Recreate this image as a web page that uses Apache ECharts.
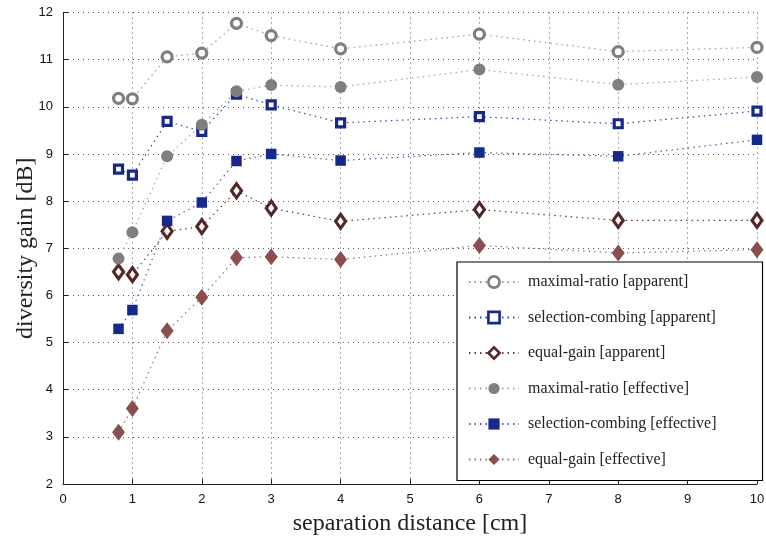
<!DOCTYPE html>
<html><head><meta charset="utf-8">
<script src="https://cdn.jsdelivr.net/npm/echarts@6/dist/echarts.min.js"></script>
<style>html,body{margin:0;padding:0;background:#fff}#c{width:766px;height:537px}</style>
</head><body><div id="c"></div>
<script>
const xValues = [0.8, 1, 1.5, 2, 2.5, 3, 4, 6, 8, 10];
const maxRatioApparent   = [10.18, 10.17, 11.06, 11.14, 11.77, 11.51, 11.23, 11.54, 11.17, 11.26];
const selectionApparent  = [8.68, 8.55, 9.69, 9.48, 10.27, 10.04, 9.66, 9.79, 9.64, 9.91];
const equalGainApparent  = [6.50, 6.44, 7.36, 7.46, 8.22, 7.85, 7.57, 7.82, 7.59, 7.59];
const maxRatioEffective  = [6.78, 7.34, 8.95, 9.62, 10.33, 10.46, 10.42, 10.79, 10.47, 10.63];
const selectionEffective = [5.29, 5.69, 7.58, 7.97, 8.85, 9.00, 8.86, 9.03, 8.95, 9.30];
const equalGainEffective = [3.10, 3.60, 5.25, 5.96, 6.80, 6.82, 6.76, 7.06, 6.90, 6.97];
const xTickLabels = ['0','1','2','3','4','5','6','7','8','9','10'];
const yTickLabels = ['2','3','4','5','6','7','8','9','10','11','12'];
const seriesNames = [
  'maximal-ratio [apparent]',
  'selection-combing [apparent]',
  'equal-gain [apparent]',
  'maximal-ratio [effective]',
  'selection-combing [effective]',
  'equal-gain [effective]'
];

const GREY = '#7f7f7f', BLUE = '#16298a', DBROWN = '#552727', RBROWN = '#8a4e4e';
function pairs(ys){ return xValues.map((x,i)=>[x, ys[i]]); }
function mk(name, ys, color, symbol, size, open, lineColor){
  return {
    name, type:'line', data: pairs(ys), symbol, symbolSize: size,
    z: open ? 3 : 4,
    itemStyle: open ? {color:'#fff', borderColor:color, borderWidth:3.2} : {color:color, borderWidth:0},
    lineStyle: {color: lineColor, width:1.2, type:[1.5,4]},
    emphasis:{disabled:true}, animation:false
  };
}
const series = [
  mk(seriesNames[0], maxRatioApparent, GREY, 'circle', 10, true, '#9a9a9a'),
  mk(seriesNames[1], selectionApparent, BLUE, 'rect', 8, true, '#3346a6'),
  mk(seriesNames[2], equalGainApparent, DBROWN, 'diamond', [10,14], true, '#6a3a3a'),
  mk(seriesNames[3], maxRatioEffective, GREY, 'circle', 12, false, '#a0a0a0'),
  mk(seriesNames[4], selectionEffective, BLUE, 'rect', 10.5, false, '#4a5cb5'),
  mk(seriesNames[5], equalGainEffective, RBROWN, 'diamond', [13,17], false, '#a07070')
];

const chart = echarts.init(document.getElementById('c'), null, {renderer:'canvas'});
chart.setOption({
  backgroundColor:'#fff',
  animation:false,
  grid:{left:63, right:9, top:12.5, bottom:53, containLabel:false, outerBoundsMode:'none'},
  xAxis:{
    type:'value', min:0, max:10, interval:1,
    name:'separation distance [cm]', nameLocation:'middle', nameGap:28,
    nameTextStyle:{fontFamily:'Liberation Serif', fontSize:24, color:'#222'},
    axisLine:{show:true, lineStyle:{color:'#222', width:1}},
    axisTick:{show:true, inside:true, length:5, lineStyle:{color:'#222'}},
    axisLabel:{fontFamily:'Liberation Sans', fontSize:13, color:'#111', margin:9,
      formatter:(v)=>xTickLabels[Math.round(v)]},
    splitLine:{show:true, lineStyle:{color:'#555', width:1, type:[1,4]}}
  },
  yAxis:{
    type:'value', min:2, max:12, interval:1,
    name:'diversity gain [dB]', nameLocation:'middle', nameGap:25, nameMoveOverlap:false,
    nameTextStyle:{fontFamily:'Liberation Serif', fontSize:24, color:'#222'},
    axisLine:{show:true, lineStyle:{color:'#222', width:1}},
    axisTick:{show:true, inside:true, length:5, lineStyle:{color:'#222'}},
    axisLabel:{fontFamily:'Liberation Sans', fontSize:13, color:'#111', margin:10,
      formatter:(v)=>yTickLabels[Math.round(v-2)]},
    splitLine:{show:true, lineStyle:{color:'#555', width:1, type:[1,4]}}
  },
  legend:{
    orient:'vertical', left:457, top:262,
    padding:[12,46,13,11],
    itemWidth:50, itemHeight:14, itemGap:19.5,
    backgroundColor:'#fff', borderColor:'#000', borderWidth:1.2,
    textStyle:{fontFamily:'Liberation Serif', fontSize:16, color:'#222', padding:[0,0,0,4]},
    data: seriesNames.map((n,i)=>({name:n, itemStyle: i<3 ? {borderWidth:2.6} : {}})),
    selectedMode:false
  },
  series
});
</script></body></html>
